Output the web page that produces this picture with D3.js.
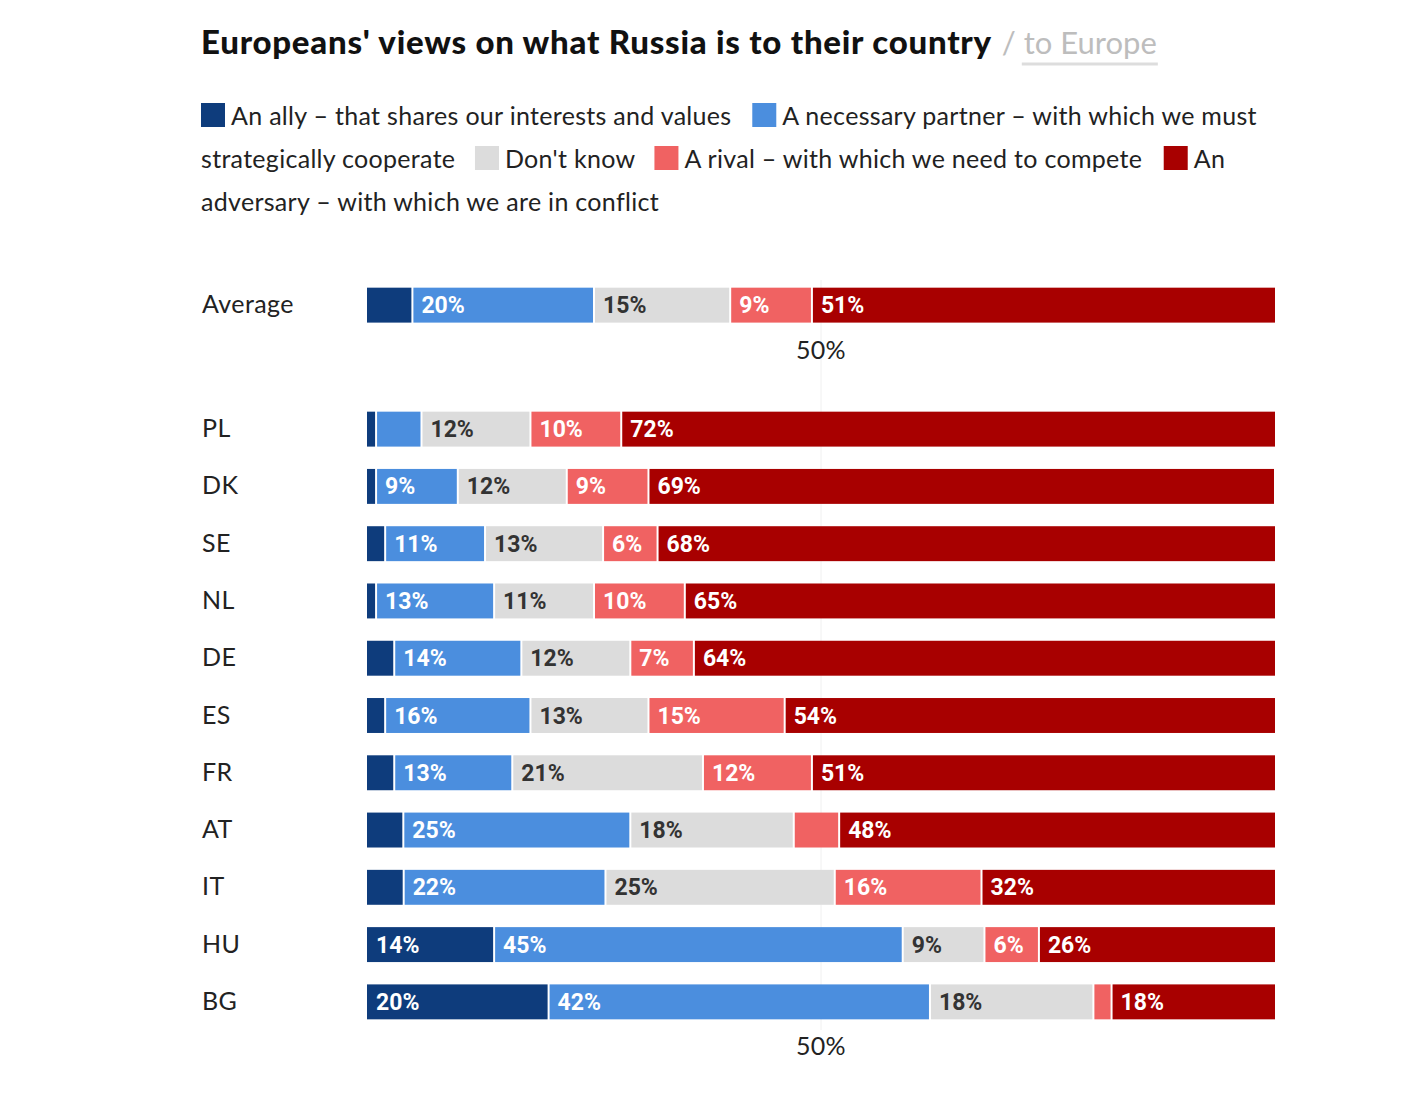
<!DOCTYPE html>
<html><head><meta charset="utf-8">
<script src="https://cdn.jsdelivr.net/npm/d3@7"></script>
<style>
html,body{margin:0;padding:0;background:#fff;}
svg{display:block;}
</style></head>
<body>
<svg id="chart" width="1420" height="1093"></svg>
<script>
const categories = ["Average","PL","DK","SE","NL","DE","ES","FR","AT","IT","HU","BG"];
const ally      = [5, 1, 1, 2, 1, 3, 2, 3, 4, 4, 14, 20];
const partner   = [20, 5, 9, 11, 13, 14, 16, 13, 25, 22, 45, 42];
const dontKnow  = [15, 12, 12, 13, 11, 12, 13, 21, 18, 25, 9, 18];
const rival     = [9, 10, 9, 6, 10, 7, 15, 12, 5, 16, 6, 2];
const adversary = [51, 72, 69, 68, 65, 64, 54, 51, 48, 32, 26, 18];
const seriesKeys = ["ally","partner","dontKnow","rival","adversary"];
const seriesNames = ["An ally – that shares our interests and values","A necessary partner – with which we must strategically cooperate","Don't know","A rival – with which we need to compete","An adversary – with which we are in conflict"];
const tickLabels = ["50%"];
const titleText = "Europeans' views on what Russia is to their country";
const titleAlt = "/ to Europe";

const colors = {ally:"#0e3c7c", partner:"#4b8ede", dontKnow:"#dcdcdc", rival:"#f06262", adversary:"#a80000"};
const labelColors = {ally:"#fff", partner:"#fff", dontKnow:"#333", rival:"#fff", adversary:"#fff"};

const table = categories.map((c,i)=>({cat:c, ally:ally[i], partner:partner[i], dontKnow:dontKnow[i], rival:rival[i], adversary:adversary[i]}));

const svg = d3.select("#chart");
const LEFT = 201;
const FONT = "Lato, 'Open Sans', sans-serif";

// Title
const TFS = 33, TLS = 0.75;
const title = svg.append("text").attr("x", LEFT).attr("y", 54)
  .attr("font-family", FONT).attr("font-weight", 900).attr("font-size", TFS).attr("letter-spacing", TLS).attr("fill", "#111")
  .text(titleText);
const tw = title.node().getComputedTextLength();
const altX = LEFT + tw + 10;
const AFS = 31;
const alt = svg.append("text").attr("x", altX).attr("y", 54)
  .attr("font-family", FONT).attr("font-weight", 400).attr("font-size", AFS).attr("fill", "#bdbdbd")
  .text(titleAlt);
const slashT = svg.append("text").attr("font-family",FONT).attr("font-size",AFS).attr("xml:space","preserve").text("/ ");
const slashW = slashT.node().getComputedTextLength(); slashT.remove();
const aw = alt.node().getComputedTextLength();
svg.append("line").attr("x1", altX + slashW - 2).attr("x2", altX + aw + 1)
  .attr("y1", 64).attr("y2", 64).attr("stroke", "#dddddd").attr("stroke-width", 3);

// Legend (flowing)
const legendG = svg.append("g");
const LFS = 25, LLS = 0.3, maxX = 1275, lineH = 43;
let lx = LEFT, ly = 125;
const measure = (s)=>{const t=legendG.append("text").attr("font-family",FONT).attr("font-size",LFS).attr("letter-spacing",LLS).attr("xml:space","preserve").text(s);const w=t.node().getComputedTextLength();t.remove();return w;};
const spaceW = measure("a b") - measure("ab");
seriesKeys.forEach((k,i)=>{
  const words = seriesNames[i].split(" ");
  if (lx + 30 + measure(words[0]) > maxX) { lx = LEFT; ly += lineH; }
  legendG.append("rect").attr("x", lx).attr("y", ly-22).attr("width", 24).attr("height", 24).attr("fill", colors[k]);
  lx += 30;
  let cur = [], startX = lx, endX = lx;
  const flush = ()=>{ if(cur.length){ legendG.append("text").attr("x", startX).attr("y", ly).attr("font-family",FONT).attr("font-size",LFS).attr("letter-spacing",LLS).attr("fill","#222").text(cur.join(" ")); } cur=[]; };
  words.forEach(w=>{
    const ww = measure(w);
    if (lx + ww > maxX) { flush(); lx = LEFT; ly += lineH; startX = lx; }
    cur.push(w); endX = lx + ww; lx += ww + spaceW;
  });
  flush();
  lx = endX + 19;
});

// Scales
const x = d3.scaleLinear().domain([0,1]).range([367,1275]);
const yAvg = d3.scaleBand().domain(["Average"]).range([276.5, 333.8]).paddingInner(0.39).paddingOuter(0.195);
const yC = d3.scaleBand().domain(categories.slice(1)).range([400.5, 1030.5]).paddingInner(0.39).paddingOuter(0.195);
const yPos = c => c === "Average" ? yAvg(c) : yC(c);
const bh = yC.bandwidth();

// 50% gridline
svg.append("line").attr("x1", x(0.5)).attr("x2", x(0.5)).attr("y1", 280).attr("y2", 1030)
  .attr("stroke", "#f0f0f0").attr("stroke-width", 1);

const stack = d3.stack().keys(seriesKeys).offset(d3.stackOffsetExpand);
const stacked = stack(table);

const layer = svg.append("g").selectAll("g").data(stacked).join("g").attr("fill", d=>colors[d.key]);
layer.selectAll("rect").data(d=>d.map(v=>({v, key:d.key}))).join("rect")
  .attr("x", d=>x(d.v[0]) + (d.v[0] > 0 ? 1 : 0))
  .attr("y", d=>yPos(d.v.data.cat))
  .attr("width", d=>Math.max(0, x(d.v[1]) - x(d.v[0]) - (d.v[0] > 0 ? 1 : 0) - (d.v[1] < 1 ? 1 : 0)))
  .attr("height", bh);

// value labels
const lab = svg.append("g");
stacked.forEach(s=>{
  s.forEach(v=>{
    const val = v.data[s.key];
    if (val >= 6) {
      lab.append("text").attr("x", x(v[0]) + 9).attr("y", yPos(v.data.cat) + bh/2 + 8)
        .attr("font-family", "Roboto, sans-serif").attr("font-weight", 700).attr("font-size", 23)
        .attr("fill", labelColors[s.key]).text(val + "%");
    }
  });
});

// row labels
svg.append("g").selectAll("text").data(categories).join("text")
  .attr("x", LEFT+1).attr("y", c=>yPos(c) + bh/2 + 8)
  .attr("font-family", FONT).attr("font-size", 25).attr("letter-spacing", 0.4).attr("fill", "#222").text(c=>c);

// 50% tick labels
[yAvg("Average") + bh + 36, yC("BG") + bh + 36].forEach(yy=>{
  svg.append("text").attr("x", x(0.5)).attr("y", yy).attr("text-anchor","middle")
    .attr("font-family", FONT).attr("font-size", 25).attr("letter-spacing", 0.3).attr("fill", "#222").text(tickLabels[0]);
});
</script>
</body></html>
